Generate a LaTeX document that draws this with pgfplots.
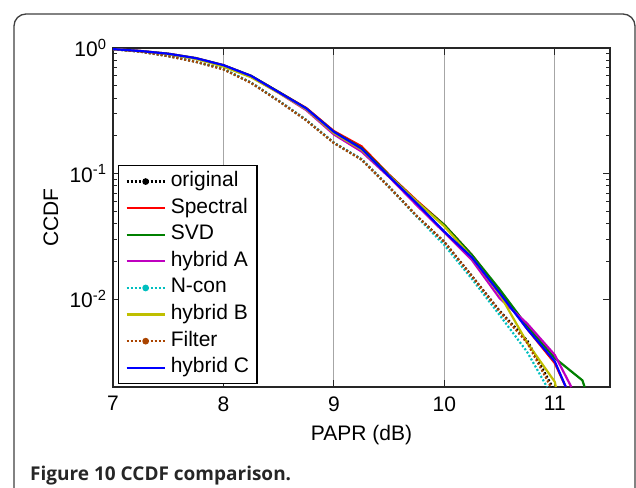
\documentclass[border=0pt]{standalone}
\usepackage{fontspec}
\setmainfont{Liberation Sans}
\newfontfamily\capfont{Open Sans}
\usepackage{pgfplots}
\pgfplotsset{compat=1.18}
\definecolor{mgreen}{rgb}{0,0.5,0}
\definecolor{mmag}{rgb}{0.75,0,0.75}
\definecolor{mcyan}{rgb}{0,0.75,0.75}
\definecolor{myel}{rgb}{0.75,0.75,0}
\definecolor{mbrown}{RGB}{170,68,0}
\begin{document}
\begin{tikzpicture}
\useasboundingbox (0pt,0pt) rectangle (636pt,487pt);
\fill[white] (0pt,0pt) rectangle (636pt,487pt);
\draw[line width=1.3pt, black!75, rounded corners=12pt] (14pt,-30pt) -- (14pt,473pt) -- (635pt,473pt) -- (635pt,-30pt);
\node[anchor=base west, inner sep=0pt, text=black!85] at (30pt,7pt) {\capfont\fontsize{19}{22}\selectfont\bfseries Figure 10 CCDF comparison.};
\begin{axis}[
  at={(113pt,100pt)}, anchor=south west,
  width=497pt, height=339pt, scale only axis,
  ymode=log, xmin=7, xmax=11.5, ymin=0.002, ymax=1,
  xtick={7,8,9,10,11}, xticklabels={7,8,9,10,11},
  ytick={0.01,0.1,1},
  yticklabels={10\textsuperscript{-2},10\textsuperscript{-1},10\textsuperscript{0}},
  xmajorgrids, major grid style={gray!70, line width=0.8pt},
  tick align=inside,
  major tick length=7pt, minor tick length=4pt,
  every tick/.style={black!85, line width=0.8pt},
  axis line style={black!85, line width=1.8pt},
  tick label style={font=\fontsize{21}{25}\selectfont},
  xticklabel style={yshift=-6pt},
  yticklabel style={xshift=-3pt},
  xlabel={PAPR (dB)}, ylabel={CCDF},
  label style={font=\fontsize{21}{25}\selectfont},
  xlabel style={at={(axis description cs:0.5,-0.142)}, anchor=center},
  ylabel style={at={(axis description cs:-0.125,0.5)}, anchor=center, rotate=0},
  legend cell align=left,
  legend style={at={(rel axis cs:0.01,0.655)}, anchor=north west,
    font=\fontsize{21}{25}\selectfont, draw=black, line width=1.2pt,
    nodes={inner sep=1pt, text height=15pt, text depth=5pt}, row sep=4.6pt,
    inner xsep=7pt, inner ysep=5pt,
    /tikz/every odd column/.append style={column sep=4pt}},
  solidline/.style={line width=2.2pt, line join=round},
  dotline/.style={line width=2.2pt, dash pattern=on 2pt off 2pt},
  solidleg/.style={legend image code/.code={\draw[##1] (0pt,0pt) -- (38pt,0pt);}},
  dotleg/.style={legend image code/.code={\draw[##1] (0pt,0pt) -- (38pt,0pt); \fill[##1, solid] (19pt,0pt) circle (2.2pt);}},
]
% original
\addplot[dotline, color=black, dotleg] coordinates {
(7.0,0.98) (7.25,0.935) (7.5,0.863) (7.75,0.778) (8.0,0.68) (8.25,0.53) (8.5,0.38) (8.75,0.267) (9.0,0.176) (9.25,0.13) (9.5,0.0785) (9.75,0.046) (10.0,0.0286) (10.25,0.0153) (10.5,0.0081) (10.75,0.0047) (10.98,0.002)};
\addlegendentry{original}
% Spectral
\addplot[solidline, color=red, solidleg] coordinates {
(7.0,0.98) (7.25,0.946) (7.5,0.90) (7.75,0.83) (8.0,0.73) (8.25,0.60) (8.5,0.447) (8.75,0.333) (9.0,0.218) (9.25,0.165) (9.5,0.098) (9.75,0.061) (10.0,0.039) (10.25,0.0225) (10.5,0.0117) (10.75,0.0058) (11.0,0.0031) (11.1,0.002)};
\addlegendentry{Spectral}
% SVD
\addplot[solidline, color=mgreen, solidleg] coordinates {
(7.0,0.98) (7.25,0.945) (7.5,0.90) (7.75,0.83) (8.0,0.728) (8.25,0.60) (8.5,0.447) (8.75,0.33) (9.0,0.215) (9.25,0.16) (9.5,0.097) (9.75,0.060) (10.0,0.039) (10.25,0.0225) (10.5,0.0120) (10.75,0.0061) (11.0,0.0034) (11.25,0.00226) (11.27,0.002)};
\addlegendentry{SVD}
% hybrid A
\addplot[solidline, color=mmag, solidleg] coordinates {
(7.0,0.98) (7.25,0.944) (7.5,0.895) (7.75,0.825) (8.0,0.72) (8.25,0.59) (8.5,0.44) (8.75,0.32) (9.0,0.205) (9.25,0.15) (9.5,0.094) (9.75,0.056) (10.0,0.034) (10.25,0.0205) (10.5,0.0102) (10.75,0.0064) (11.0,0.0036) (11.15,0.002)};
\addlegendentry{hybrid A}
% N-con
\addplot[dotline, color=mcyan, dotleg] coordinates {
(7.0,0.98) (7.25,0.935) (7.5,0.863) (7.75,0.778) (8.0,0.68) (8.25,0.53) (8.5,0.38) (8.75,0.267) (9.0,0.176) (9.25,0.13) (9.5,0.078) (9.75,0.0455) (10.0,0.027) (10.25,0.0145) (10.5,0.0075) (10.75,0.0038) (10.93,0.002)};
\addlegendentry{N-con}
% hybrid B
\addplot[solidline, color=myel, solidleg] coordinates {
(7.0,0.98) (7.25,0.942) (7.5,0.893) (7.75,0.82) (8.0,0.71) (8.25,0.585) (8.5,0.44) (8.75,0.325) (9.0,0.21) (9.25,0.155) (9.5,0.096) (9.75,0.060) (10.0,0.038) (10.25,0.0215) (10.5,0.0110) (10.75,0.0045) (11.0,0.0022) (11.01,0.002)};
\addlegendentry{hybrid B}
% Filter
\addplot[dotline, color=mbrown, dotleg] coordinates {
(7.0,0.98) (7.25,0.933) (7.5,0.86) (7.75,0.775) (8.0,0.675) (8.25,0.527) (8.5,0.378) (8.75,0.265) (9.0,0.175) (9.25,0.129) (9.5,0.078) (9.75,0.046) (10.0,0.0285) (10.25,0.0152) (10.5,0.0080) (10.75,0.0045) (10.965,0.002)};
\addlegendentry{Filter}
% hybrid C
\addplot[solidline, color=blue, solidleg] coordinates {
(7.0,0.98) (7.25,0.946) (7.5,0.90) (7.75,0.83) (8.0,0.73) (8.25,0.60) (8.5,0.445) (8.75,0.33) (9.0,0.215) (9.25,0.158) (9.5,0.095) (9.75,0.058) (10.0,0.0345) (10.25,0.0215) (10.5,0.0112) (10.75,0.0058) (11.0,0.0032) (11.1,0.002)};
\addlegendentry{hybrid C}
\end{axis}
\end{tikzpicture}
\end{document}
